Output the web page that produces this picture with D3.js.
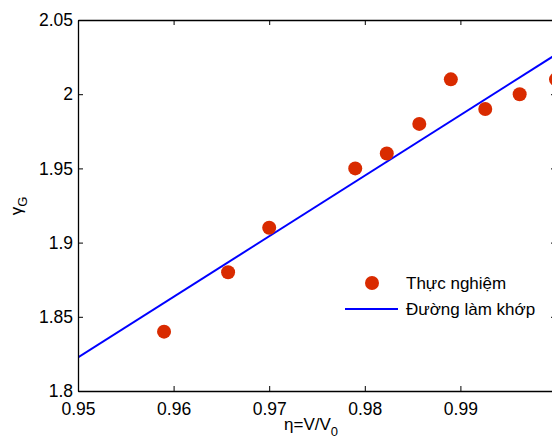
<!DOCTYPE html>
<html><head><meta charset="utf-8">
<script src="https://cdn.jsdelivr.net/npm/d3@7"></script>
<style>
html,body{margin:0;padding:0;background:#fff;overflow:hidden}
text{font-family:"Liberation Sans",Arial,Helvetica,sans-serif;}
</style></head>
<body>
<svg id="c" width="552" height="437"></svg>
<script>
const etaValues   = [0.959, 0.9657, 0.970, 0.979, 0.9823, 0.9857, 0.989, 0.9926, 0.9962, 1.000];
const gammaValues = [1.84, 1.88, 1.91, 1.95, 1.96, 1.98, 2.01, 1.99, 2.00, 2.01];
const fitEta   = [0.95, 1.00];
const fitGamma = [1.8226, 2.0268];
const xTicks = [0.95, 0.96, 0.97, 0.98, 0.99, 1.00];
const xTickLabels = ["0.95", "0.96", "0.97", "0.98", "0.99", ""];
const yTicks = [1.8, 1.85, 1.9, 1.95, 2, 2.05];
const yTickLabels = ["1.8", "1.85", "1.9", "1.95", "2", "2.05"];
const legendLabels = ["Thực nghiệm", "Đường làm khớp"];

const svg = d3.select("#c");
const L = 78, R = 556, T = 20, B = 391;
const x = d3.scaleLinear().domain([0.95, 1.0]).range([L, R]);
const y = d3.scaleLinear().domain([1.8, 2.05]).range([B, T]);
const fs = 17.5;

svg.append("defs").append("clipPath").attr("id","clip")
  .append("rect").attr("x",L).attr("y",T).attr("width",R-L).attr("height",B-T);

const g = svg.append("g").attr("clip-path","url(#clip)");
g.append("path")
  .datum(fitEta.map((e,i)=>[e,fitGamma[i]]))
  .attr("d", d3.line().x(d=>x(d[0])).y(d=>y(d[1])))
  .attr("fill","none").attr("stroke","#0000ff").attr("stroke-width",2);
svg.append("g").selectAll("circle").data(etaValues).join("circle")
  .attr("cx",(d)=>x(d)).attr("cy",(d,i)=>y(gammaValues[i]))
  .attr("r",7).attr("fill","#d92b00");

const tl = 5;
const ax = (gen, tr) => {
  const a = svg.append("g").attr("transform",tr).call(gen);
  a.select(".domain").attr("stroke","#000").attr("stroke-width",1.3);
  a.selectAll(".tick line").attr("stroke","#000").attr("stroke-width",1);
  a.selectAll("text").attr("font-size",fs).attr("fill","#000")
   .attr("font-family",'"Liberation Sans",Arial,sans-serif');
  return a;
};
const xb = ax(d3.axisBottom(x).tickValues(xTicks).tickFormat((d,i)=>xTickLabels[i]).tickSizeInner(-tl).tickSizeOuter(0).tickPadding(8), `translate(0,${B})`);
xb.selectAll("text").attr("dy","0.9em");
ax(d3.axisTop(x).tickValues(xTicks).tickFormat("").tickSizeInner(-tl).tickSizeOuter(0), `translate(0,${T})`);
ax(d3.axisLeft(y).tickValues(yTicks).tickFormat((d,i)=>yTickLabels[i]).tickSizeInner(-tl).tickSizeOuter(0).tickPadding(5), `translate(${L},0)`);
ax(d3.axisRight(y).tickValues(yTicks).tickFormat("").tickSizeInner(-tl).tickSizeOuter(0), `translate(${R},0)`);

// axis labels
const xl = svg.append("text").attr("x",284).attr("y",430).attr("font-size",17).attr("fill","#000");
xl.append("tspan").text("η=V/V");
xl.append("tspan").attr("dy",6).attr("font-size",13).text("0");

const yg = svg.append("g").attr("transform","translate(22,206) rotate(-90)");
const ylab = yg.append("text").attr("x",0).attr("y",0)
  .attr("text-anchor","middle").attr("font-size",17).attr("fill","#000");
ylab.append("tspan").text("γ");
ylab.append("tspan").attr("dy",5).attr("font-size",13).text("G");

// legend
const lg = svg.append("g");
lg.append("circle").attr("cx",372).attr("cy",283).attr("r",7).attr("fill","#d92b00");
lg.append("line").attr("x1",345).attr("x2",398).attr("y1",309).attr("y2",309)
  .attr("stroke","#0000ff").attr("stroke-width",2);
lg.selectAll("text.lab").data(legendLabels).join("text").attr("class","lab")
  .attr("x",406).attr("y",(d,i)=>289+i*26).attr("font-size",17).attr("fill","#000").text(d=>d);
</script>
</body></html>
